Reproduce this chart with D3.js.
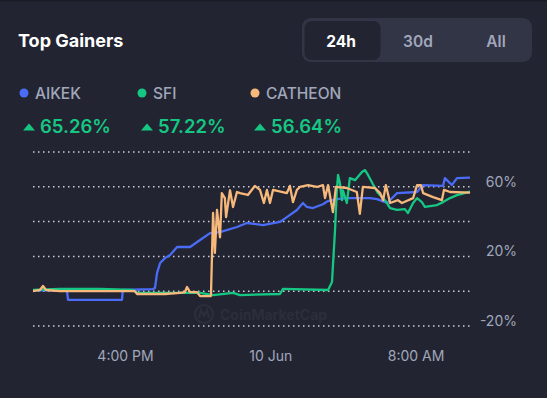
<!DOCTYPE html>
<html>
<head>
<meta charset="utf-8">
<script src="https://cdn.jsdelivr.net/npm/d3@7"></script>
<style>
  html, body { margin: 0; padding: 0; background: #222531; }
  svg { display: block; font-family: Inter, "Noto Sans", sans-serif; }
</style>
</head>
<body>
<div id="app"></div>
<script>
const WIDTH = 547;
const HEIGHT = 398;

// series: [minutes since 9 Jun 10:56, change in %]
const aikek = [
  [0, 0.5], [112, 0.5], [116, -5], [294, -5], [297, 0.7], [396, 1.2], [403, 1.8],
  [410, 10.5], [420, 16.2], [436, 19], [453, 20.8], [476, 25.4], [519, 25.4],
  [552, 29.4], [585, 33.4], [618, 34], [674, 36.9], [707, 39.2], [760, 38],
  [816, 39.8], [839, 42.6], [872, 46.7], [892, 50.7], [905, 48.4], [925, 47.8],
  [958, 50], [975, 51.8], [1004, 52.9], [1037, 53.5], [1113, 53.5], [1137, 52.9],
  [1170, 50.7], [1203, 56.4], [1269, 57], [1289, 61], [1355, 60.5], [1361, 65],
  [1384, 61], [1401, 65], [1444, 65.26]
];
const sfi = [
  [0, 0.7], [89, 1.3], [221, 1.3], [330, 0.7], [344, -1], [486, -1], [552, -1],
  [595, -2.2], [661, -1], [684, -2.2], [816, -1.6], [826, 1.3], [975, 0.7],
  [988, 5.3], [998, 35.2], [1004, 58], [1008, 66.8], [1014, 62.2], [1021, 52.3],
  [1024, 58], [1037, 50.7], [1047, 65], [1064, 63.8], [1087, 68.5], [1097, 69.6],
  [1107, 66.8], [1123, 61.6], [1140, 56.4], [1163, 52.3], [1180, 47.8],
  [1203, 46.7], [1229, 47.2], [1239, 44.9], [1256, 50.7], [1269, 53.5],
  [1285, 51.2], [1295, 48.4], [1335, 49.5], [1355, 51.2], [1378, 53.5],
  [1401, 55.2], [1444, 57.22]
];
const catheon = [
  [0, 0], [23, 0.7], [33, 3], [43, 0.7], [89, 0], [337, 0], [344, -1.6],
  [436, -1.6], [486, -1], [502, -0.5], [509, 2.4], [519, -0.5], [542, -0.5],
  [552, -2.8], [588, -2.8], [595, 45], [601, 22], [608, 46.7], [618, 31],
  [624, 56.4], [634, 53.5], [638, 42.6], [651, 58], [661, 48.4], [674, 57],
  [684, 56.4], [710, 55.3], [733, 60.5], [750, 58.2], [763, 50.7], [773, 58.2],
  [783, 50.7], [793, 58.2], [839, 56.4], [849, 60.5], [859, 51.2], [872, 58.2],
  [882, 59.9], [909, 61], [938, 59.9], [958, 61], [965, 53.5], [975, 61],
  [991, 45.5], [1001, 59.9], [1037, 59.3], [1070, 57], [1080, 44.4],
  [1090, 59.9], [1130, 59.3], [1147, 56.4], [1157, 52.3], [1166, 61],
  [1180, 50.7], [1206, 52.3], [1219, 50.7], [1256, 53.5], [1269, 61],
  [1282, 61], [1289, 56.4], [1322, 54.1], [1351, 52.3], [1358, 58.2],
  [1378, 57], [1444, 56.64]
];

const coinNames = ['AIKEK', 'SFI', 'CATHEON'];
const coinChanges = [65.26, 57.22, 56.64];
const coinColors = ['#4a6cf7', '#16c784', '#f7b87b'];
const periods = ['24h', '30d', 'All'];
const gridTicks = [-20, 0, 20, 40, 60, 80];
const yLabelTicks = [-20, 20, 60];
const xTicks = [new Date(2024, 5, 9, 16), new Date(2024, 5, 10, 0), new Date(2024, 5, 10, 8)];

const startTime = new Date(2024, 5, 9, 10, 56);
const series = [aikek, sfi, catheon].map((pts, i) => ({
  name: coinNames[i],
  color: coinColors[i],
  values: pts.map(([m, v]) => ({ t: d3.timeMinute.offset(startTime, m), v }))
}));

const svg = d3.select('#app').append('svg')
  .attr('width', WIDTH)
  .attr('height', HEIGHT);

svg.append('rect').attr('width', WIDTH).attr('height', HEIGHT).attr('fill', '#222531');
svg.append('rect').attr('width', WIDTH).attr('height', 1.5).attr('fill', '#1a1c25');

// header
svg.append('text')
  .attr('x', 18).attr('y', 47)
  .attr('fill', '#ffffff')
  .attr('font-size', 18).attr('font-weight', 700)
  .text('Top Gainers');

const toggle = svg.append('g');
toggle.append('rect')
  .attr('x', 302).attr('y', 18).attr('width', 230).attr('height', 44)
  .attr('rx', 9).attr('fill', '#323546');
toggle.append('rect')
  .attr('x', 304.5).attr('y', 21).attr('width', 76).attr('height', 39)
  .attr('rx', 7).attr('fill', '#222531');
const toggleX = d3.scalePoint().domain(periods).range([343, 497]);
toggle.selectAll('text.period')
  .data(periods)
  .join('text')
  .attr('class', 'period')
  .attr('x', d => d === 'All' ? toggleX(d) - 1 : toggleX(d) - 2)
  .attr('y', 46.5)
  .attr('text-anchor', 'middle')
  .attr('font-size', 15.5)
  .attr('font-weight', d => d === '24h' ? 700 : 600)
  .attr('fill', d => d === '24h' ? '#ffffff' : '#a1a7bb')
  .text(d => d);

// legend
const legendX = [24, 142, 255];
const legend = svg.selectAll('g.legend')
  .data(series)
  .join('g')
  .attr('class', 'legend')
  .attr('transform', (d, i) => `translate(${legendX[i]},0)`);

legend.append('circle')
  .attr('cx', 0).attr('cy', 93).attr('r', 4.5)
  .attr('fill', d => d.color);
legend.append('text')
  .attr('x', 11).attr('y', 98.5)
  .attr('font-size', 15.5).attr('font-weight', 500)
  .attr('fill', '#a1a7bb')
  .text(d => d.name);
legend.append('path')
  .attr('d', 'M-1,130.5 L5,123.5 L11,130.5 Z')
  .attr('fill', '#16c784');
legend.append('text')
  .attr('x', 16).attr('y', 133)
  .attr('font-size', 18.5).attr('font-weight', 600)
  .attr('fill', '#16c784')
  .text((d, i) => `${coinChanges[i].toFixed(2)}%`);

// chart
const x = d3.scaleTime()
  .domain([startTime, d3.timeMinute.offset(startTime, 1444)])
  .range([33, 470]);
const y = d3.scaleLinear()
  .domain([-20, 80])
  .range([326, 152]);

// watermark
const wm = svg.append('g').attr('opacity', 0.4);
wm.append('circle').attr('cx', 204).attr('cy', 314).attr('r', 9)
  .attr('fill', 'none').attr('stroke', '#3a3d4c').attr('stroke-width', 2.2);
wm.append('path').attr('d', 'M199,318 L201,310 L204,316 L207,310 L209,318')
  .attr('fill', 'none').attr('stroke', '#3a3d4c').attr('stroke-width', 2);
wm.append('text').attr('x', 220).attr('y', 319.5)
  .attr('font-size', 14).attr('font-weight', 700)
  .attr('fill', '#3a3d4c').text('CoinMarketCap');

// grid
svg.append('g')
  .selectAll('line')
  .data(gridTicks)
  .join('line')
  .attr('x1', 33).attr('x2', 470)
  .attr('y1', d => y(d)).attr('y2', d => y(d))
  .attr('stroke', '#c9ced9')
  .attr('stroke-width', 1.5)
  .attr('stroke-dasharray', '1.5,3.5');

// y labels
const yAxis = svg.append('g')
  .attr('transform', 'translate(517,0)')
  .call(d3.axisLeft(y).tickValues(yLabelTicks).tickSize(0).tickFormat(d => `${d}%`));
yAxis.select('.domain').remove();
yAxis.selectAll('text')
  .attr('x', 0).attr('dy', '-0.05em')
  .attr('font-family', 'Inter, sans-serif')
  .attr('font-size', 14)
  .attr('fill', '#a1a7bb');

// x labels
const fmt = d => d.getHours() === 0 ? d3.timeFormat('%-d %b')(d) : d3.timeFormat('%-I:%M %p')(d);
const xAxis = svg.append('g')
  .attr('transform', 'translate(0,343)')
  .call(d3.axisBottom(x).tickValues(xTicks).tickSize(0).tickFormat(fmt));
xAxis.select('.domain').remove();
xAxis.selectAll('text')
  .attr('y', 8)
  .attr('font-family', 'Inter, sans-serif')
  .attr('font-size', 14)
  .attr('fill', '#a1a7bb');

// lines
const line = d3.line()
  .x(d => x(d.t))
  .y(d => y(d.v));

svg.append('g')
  .selectAll('path')
  .data(series)
  .join('path')
  .attr('fill', 'none')
  .attr('stroke', d => d.color)
  .attr('stroke-width', 2.3)
  .attr('stroke-linejoin', 'round')
  .attr('d', d => line(d.values));
</script>
</body>
</html>
